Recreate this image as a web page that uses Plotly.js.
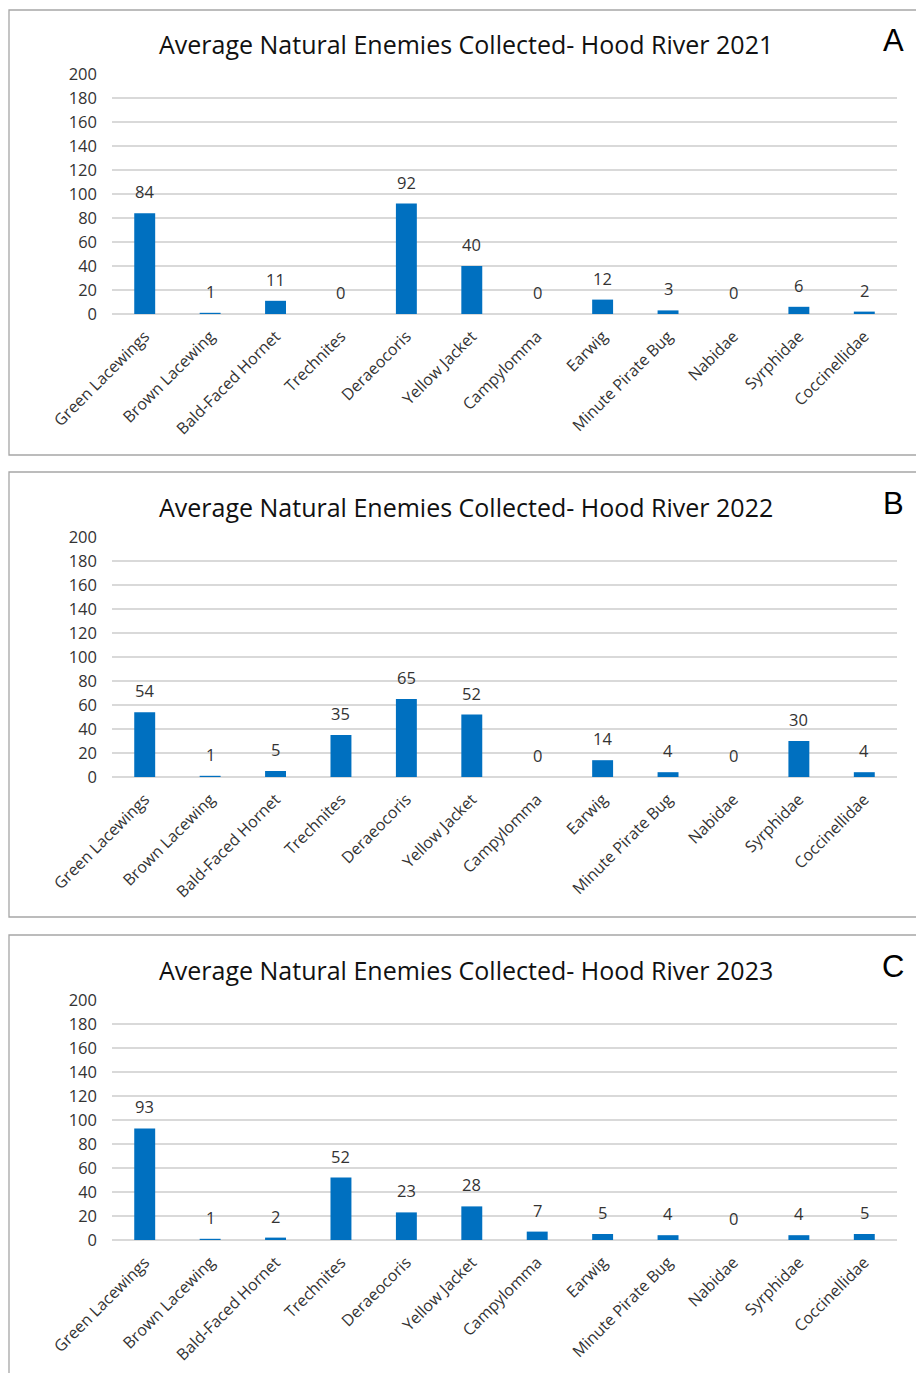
<!DOCTYPE html>
<html>
<head>
<meta charset="utf-8">
<script src="https://cdn.plot.ly/plotly-3.0.1.min.js"></script>
<style>html,body{margin:0;padding:0;background:#fff;}#chart{width:916px;height:1373px;}</style>
</head>
<body>
<div id="chart"></div>
<script>
const categories = ["Green Lacewings","Brown Lacewing","Bald-Faced Hornet","Trechnites","Deraeocoris","Yellow Jacket","Campylomma","Earwig","Minute Pirate Bug","Nabidae","Syrphidae","Coccinellidae"];
const values2021 = [84, 1, 11, 0, 92, 40, 0, 12, 3, 0, 6, 2];
const values2022 = [54, 1, 5, 35, 65, 52, 0, 14, 4, 0, 30, 4];
const values2023 = [93, 1, 2, 52, 23, 28, 7, 5, 4, 0, 4, 5];
const titles = ["Average Natural Enemies Collected- Hood River 2021","Average Natural Enemies Collected- Hood River 2022","Average Natural Enemies Collected- Hood River 2023"];
const panelLetters = ["A","B","C"];
const yTicks = [0,20,40,60,80,100,120,140,160,180,200];

const W = 916, H = 1373;
const FONT = "Open Sans, Liberation Sans, sans-serif";
const TXT = "#333333";
const px = v => v / W;
const py = v => 1 - v / H;

const panels = [
  {vals: values2021, top: 74, bottom: 314, boxTop: 10, boxBottom: 455, titleY: 44, letterY: 40},
  {vals: values2022, top: 537, bottom: 777, boxTop: 472, boxBottom: 917, titleY: 507, letterY: 503},
  {vals: values2023, top: 1000, bottom: 1240, boxTop: 935, boxBottom: 1400, titleY: 970, letterY: 966}
];

const data = [];
const layout = {
  width: W, height: H,
  margin: {l: 0, r: 0, t: 0, b: 0},
  paper_bgcolor: "#fff", plot_bgcolor: "#fff",
  showlegend: false,
  bargap: 0.68,
  font: {family: FONT, color: TXT},
  shapes: [], annotations: []
};

panels.forEach((p, i) => {
  const n = i === 0 ? "" : String(i + 1);
  data.push({
    type: "bar", x: categories, y: p.vals,
    xaxis: "x" + n, yaxis: "y" + n,
    marker: {color: "#0070C0"},
    hoverinfo: "x+y"
  });
  layout["xaxis" + n] = {
    domain: [px(112), px(897)],
    anchor: "y" + n,
    tickangle: -45,
    tickfont: {size: 16, color: TXT, family: FONT},
    showgrid: false, zeroline: false, showline: false, ticks: "",
    ticklabelstandoff: 9,
    fixedrange: true
  };
  layout["yaxis" + n] = {
    domain: [py(p.bottom), py(p.top)],
    anchor: "x" + n,
    range: [0, 200],
    tickvals: yTicks,
    tickfont: {size: 16.5, color: TXT, family: FONT},
    showgrid: true, gridcolor: "#d9d9d9", gridwidth: 1.6,
    zeroline: true, zerolinecolor: "#d9d9d9", zerolinewidth: 1.6,
    showline: false, ticks: "",
    ticklabelstandoff: 14,
    fixedrange: true
  };
  layout.shapes.push({
    type: "rect", xref: "paper", yref: "paper",
    x0: px(9), x1: px(930), y0: py(p.boxBottom), y1: py(p.boxTop),
    line: {color: "#a6a6a6", width: 1.3}, fillcolor: "rgba(0,0,0,0)", layer: "below"
  });
  layout.annotations.push({
    xref: "paper", yref: "paper", x: px(466), y: py(p.titleY),
    text: titles[i], showarrow: false, xanchor: "center", yanchor: "middle",
    font: {size: 25, color: "#111111", family: FONT}
  });
  layout.annotations.push({
    xref: "paper", yref: "paper", x: px(893), y: py(p.letterY),
    text: panelLetters[i], showarrow: false, xanchor: "center", yanchor: "middle",
    font: {size: 31, color: "#000", family: "Liberation Sans, Arial, sans-serif"}
  });
  categories.forEach((c, j) => {
    layout.annotations.push({
      xref: "x" + n, yref: "y" + n, x: c, y: p.vals[j],
      text: String(p.vals[j]), showarrow: false,
      xanchor: "center", yanchor: "bottom", yshift: 8,
      font: {size: 16.5, color: TXT, family: FONT}
    });
  });
});

Plotly.newPlot("chart", data, layout, {displayModeBar: false, staticPlot: true});
</script>
</body>
</html>
